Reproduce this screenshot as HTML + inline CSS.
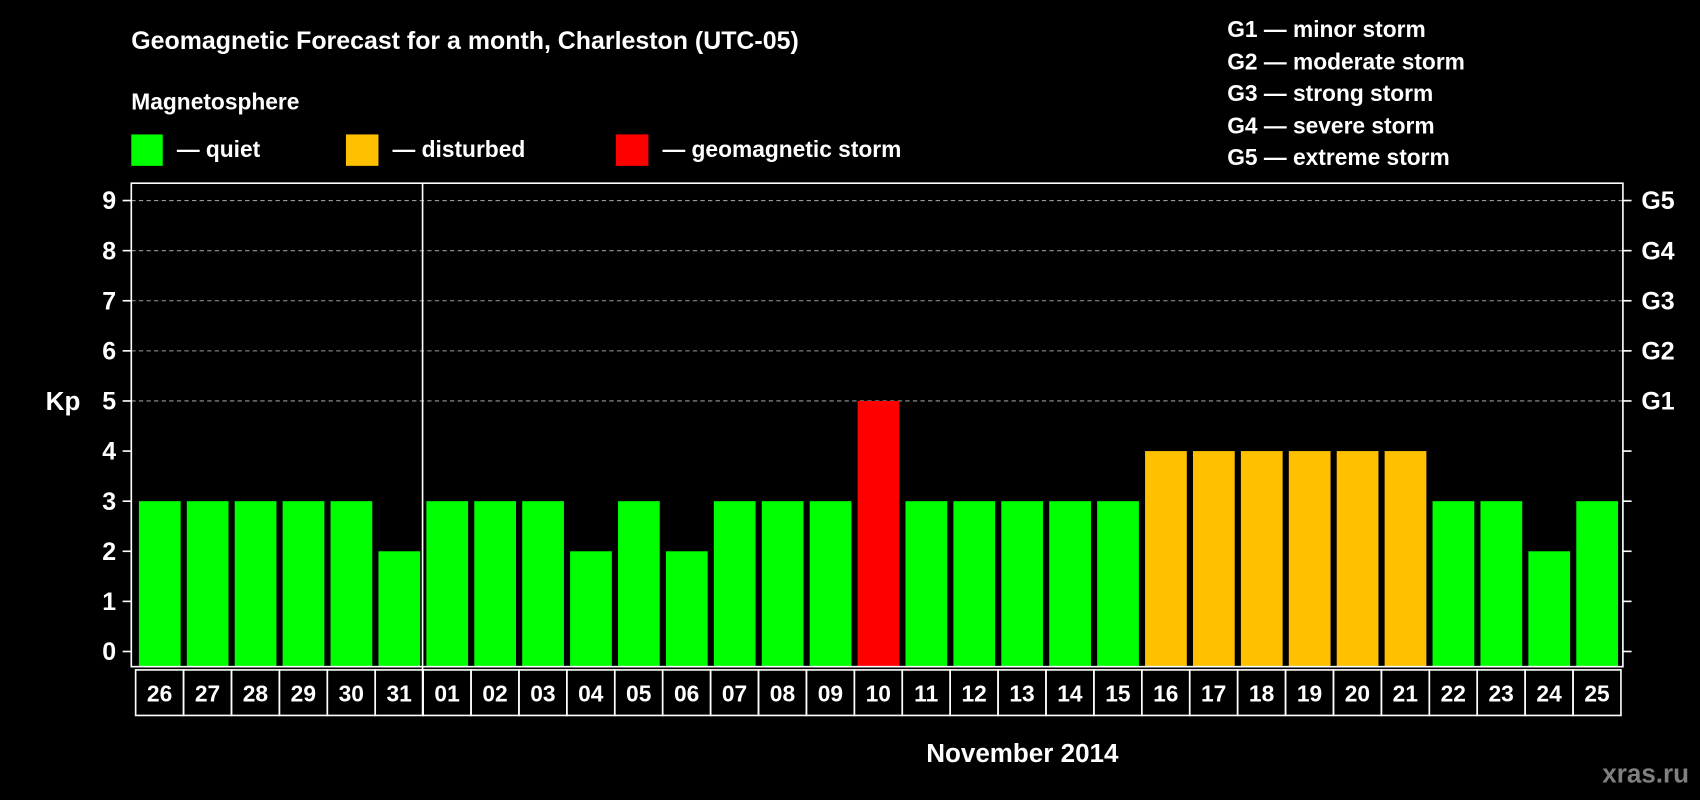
<!DOCTYPE html>
<html><head><meta charset="utf-8"><style>
html,body{margin:0;padding:0;background:#000;}
svg{display:block;font-family:"Liberation Sans",Arial,sans-serif;font-weight:bold;}
</style></head><body>
<svg id="chart" width="1700" height="800" viewBox="0 0 1568 738" xmlns="http://www.w3.org/2000/svg">
<rect x="0" y="0" width="1568" height="738" fill="#000"/>
<text x="121" y="45" fill="#fff" font-size="23">Geomagnetic Forecast for a month, Charleston (UTC-05)</text>
<text x="121" y="101" fill="#fff" font-size="21">Magnetosphere</text>
<g><rect x="121" y="124" width="29" height="29" fill="#00ff00"/><text x="163" y="145" fill="#fff" font-size="21">— quiet</text></g>
<g><rect x="319" y="124" width="30" height="29" fill="#ffc000"/><text x="362" y="145" fill="#fff" font-size="21">— disturbed</text></g>
<g><rect x="568" y="124" width="30" height="29" fill="#ff0000"/><text x="611" y="145" fill="#fff" font-size="21">— geomagnetic storm</text></g>
<g fill="#fff" font-size="21">
<text x="1132" y="34">G1 — minor storm</text>
<text x="1132" y="64">G2 — moderate storm</text>
<text x="1132" y="93">G3 — strong storm</text>
<text x="1132" y="123">G4 — severe storm</text>
<text x="1132" y="152">G5 — extreme storm</text>
</g>
<g id="grid"></g>
<g id="bars"></g>
<g id="axes"></g>
<text x="58" y="378" fill="#fff" font-size="24" text-anchor="middle">Kp</text>
<text x="943" y="703" fill="#fff" font-size="24" text-anchor="middle">November 2014</text>
<text x="1558" y="722" fill="#808080" font-size="24" text-anchor="end">xras.ru</text>
</svg>
<script>
const days = ["26","27","28","29","30","31","01","02","03","04","05","06","07","08","09","10","11","12","13","14","15","16","17","18","19","20","21","22","23","24","25"];
const kpValues = [3,3,3,3,3,2,3,3,3,2,3,2,3,3,3,5,3,3,3,3,3,4,4,4,4,4,4,3,3,2,3];
const yTicks = [0,1,2,3,4,5,6,7,8,9];
const gLabels = ["","","","","","G1","G2","G3","G4","G5"];
const NS="http://www.w3.org/2000/svg";
const L=121,R=1497,T=169,B=615,Y0=601,Y9=185;
const pitch=44.2,x0=125;
function yScale(v){return Y0-(Y0-Y9)*v/9;}
function xScale(i){return x0+i*pitch;}
function mk(tag,attrs,parent){const e=document.createElementNS(NS,tag);for(const k in attrs)e.setAttribute(k,attrs[k]);parent.appendChild(e);return e;}
const grid=document.getElementById('grid'),bars=document.getElementById('bars'),axes=document.getElementById('axes');
yTicks.forEach((v,i)=>{
  const y=yScale(v);
  if(v>=5){const g=mk('line',{x1:L,x2:R,y1:y,y2:y,stroke:'#999','stroke-width':1,'stroke-dasharray':'4,3'},grid);
    
    }
  const t1=mk('line',{x1:L-8,x2:L,y1:y,y2:y,stroke:'#fff','stroke-width':1.5},axes);
  
  
  const t2=mk('line',{x1:R,x2:R+8,y1:y,y2:y,stroke:'#fff','stroke-width':1.5},axes);
  
  
  const lb=mk('text',{x:107,y:y+8,fill:'#fff','font-size':23,'text-anchor':'end'},axes);
  lb.textContent=v;
  
  
  if(gLabels[i]){const gl=mk('text',{x:1514,y:y+8,fill:'#fff','font-size':23},axes);gl.textContent=gLabels[i];
    
    }
});
days.forEach((d,i)=>{
  const v=kpValues[i];
  const col=v>=5?'#ff0000':(v>=4?'#ffc000':'#00ff00');
  const y=yScale(v);
  const r=mk('rect',{x:xScale(i)+3,y:y,width:38.5,height:B-y,fill:col},bars);
  
  
  const c=mk('rect',{x:xScale(i),y:618,width:pitch,height:42,fill:'none',stroke:'#fff','stroke-width':1.5},axes);
  
  
  const t=mk('text',{x:xScale(i)+pitch/2,y:647,fill:'#fff','font-size':21,'text-anchor':'middle'},axes);
  t.textContent=d;
  
  
});
const frame=mk('rect',{x:L,y:T,width:R-L,height:B-T,fill:'none',stroke:'#fff','stroke-width':1.5},axes);


const sx=xScale(6)-0.5;
const sep=mk('line',{x1:sx,x2:sx,y1:T,y2:660,stroke:'#fff','stroke-width':1.5},axes);


</script>
</body></html>
